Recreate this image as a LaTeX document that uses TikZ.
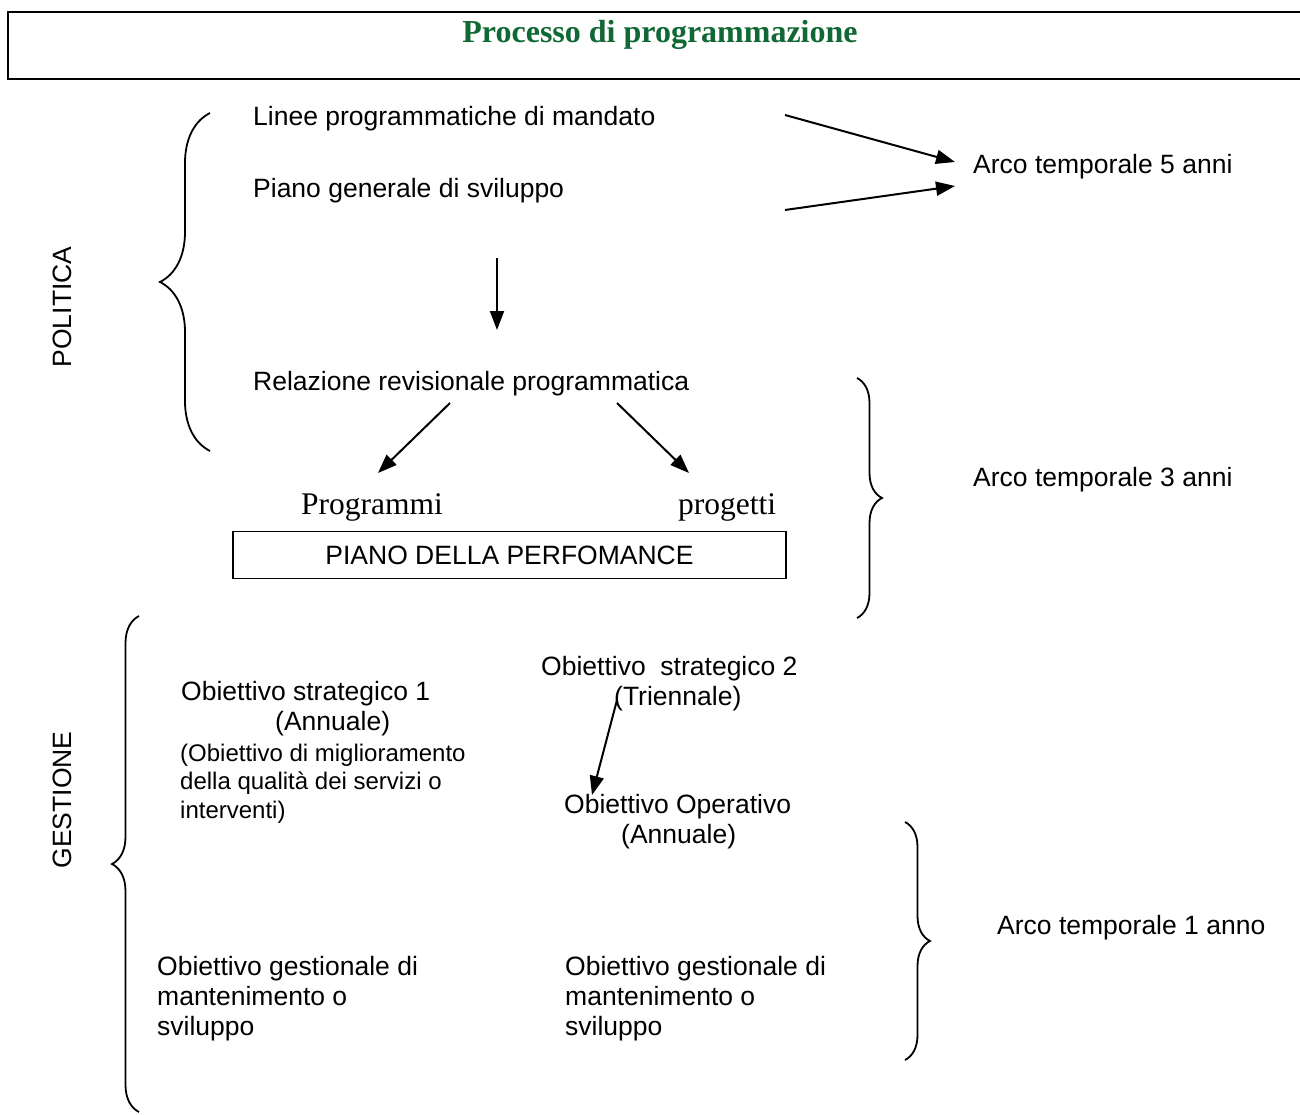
\documentclass[tikz,border=0pt]{standalone}
\usepackage{fontspec}
\setmainfont{Liberation Sans}
\newfontfamily\titlefont{Liberation Serif}
\usetikzlibrary{arrows.meta, decorations.pathreplacing, positioning}
\definecolor{titlegreen}{RGB}{16,104,52}
\tikzstyle{arrow} = [line width=2pt,-{Triangle[length=19pt,width=14pt]},draw=black]
\tikzstyle{txt} = [inner sep=0pt, anchor=base west, font=\fontsize{26.5}{30}\selectfont]
\tikzstyle{small} = [inner sep=0pt, anchor=base west, align=left, font=\fontsize{24}{28.5}\selectfont]
\tikzstyle{serif} = [inner sep=0pt, anchor=base west, font=\titlefont\fontsize{31.5}{36}\selectfont]
\tikzstyle{bracket} = [line width=1.8pt, decorate, decoration={brace, amplitude=25pt}]
\tikzstyle{side} = [inner sep=0pt, rotate=90, font=\fontsize{26.5}{30}\selectfont]

\begin{document}
\begin{tikzpicture}[x=1pt, y=-1pt]
    \useasboundingbox (0,0) rectangle (1300,1115);

    % title
    \draw[line width=2.5pt] (1310,12) -- (8,12) -- (8,79) -- (1310,79);
    \node (title) [anchor=base, inner sep=0pt, text=titlegreen, font=\titlefont\bfseries\fontsize{32}{36}\selectfont] at (660,43) {Processo di programmazione};

    % politica
    \node (pol) [side] at (62,307) {POLITICA};
    \node (linee) [txt] at (253,126) {Linee programmatiche di mandato};
    \node (piano) [txt] at (253,198) {Piano generale di sviluppo};
    \node (arco5) [txt] at (973,174) {Arco temporale 5 anni};
    \node (rel) [txt] at (253,390) {Relazione revisionale programmatica};
    \node (prog) [serif] at (301,514) {Programmi};
    \node (proj) [serif] at (678,514) {progetti};
    \node (perf) [draw, line width=1.4pt, minimum width=553pt, minimum height=47pt, inner sep=0pt, font=\fontsize{26.5}{30}\selectfont] at (509.5,555) {PIANO DELLA PERFOMANCE};
    \node (arco3) [txt] at (973,486) {Arco temporale 3 anni};

    % gestione (multi-line nodes sit on the baseline of their last line)
    \node (ges) [side] at (62,800) {GESTIONE};
    \node (os1) [txt, align=left] at (181,730) {Obiettivo strategico 1\\\hspace*{94pt}(Annuale)};
    \node (os1note) [small] at (180,818) {(Obiettivo di miglioramento\\della qualità dei servizi o\\interventi)};
    \node (os2) [txt, align=left] at (541,705) {Obiettivo~~strategico 2\\\hspace*{73pt}(Triennale)};
    \node (oper) [txt, align=left] at (564,843) {Obiettivo Operativo\\\hspace*{57pt}(Annuale)};
    \node (arco1) [txt] at (997,934) {Arco temporale 1 anno};
    \node (gest1) [txt, align=left] at (157,1035) {Obiettivo gestionale di\\mantenimento o\\sviluppo};
    \node (gest2) [txt, align=left] at (565,1035) {Obiettivo gestionale di\\mantenimento o\\sviluppo};

    % free ends of the arrows
    \coordinate (l5a) at (785,115);
    \coordinate (l5b) at (785,210);
    \coordinate (h5a) at (955,162);
    \coordinate (h5b) at (955,186);
    \coordinate (dn1) at (497,258);
    \coordinate (dn2) at (497,330);
    \coordinate (rl) at (450,403);
    \coordinate (rr) at (617,403);
    \coordinate (pl) at (378,473);
    \coordinate (pr) at (689,473);
    \coordinate (s2) at (617,700);
    \coordinate (op) at (592,795);

    \draw[arrow] (l5a) -- (h5a);
    \draw[arrow] (l5b) -- (h5b);
    \draw[arrow] (dn1) -- (dn2);
    \draw[arrow] (rl) -- (pl);
    \draw[arrow] (rr) -- (pr);
    \draw[arrow] (s2) -- (op);

    % braces
    \draw[bracket, decoration={amplitude=50pt}] (210,451) -- (210,113);
    \draw[bracket] (857,378) -- (857,618);
    \draw[bracket, decoration={amplitude=27pt}] (139,1112) -- (139,616);
    \draw[bracket] (905,822) -- (905,1060);
\end{tikzpicture}
\end{document}
